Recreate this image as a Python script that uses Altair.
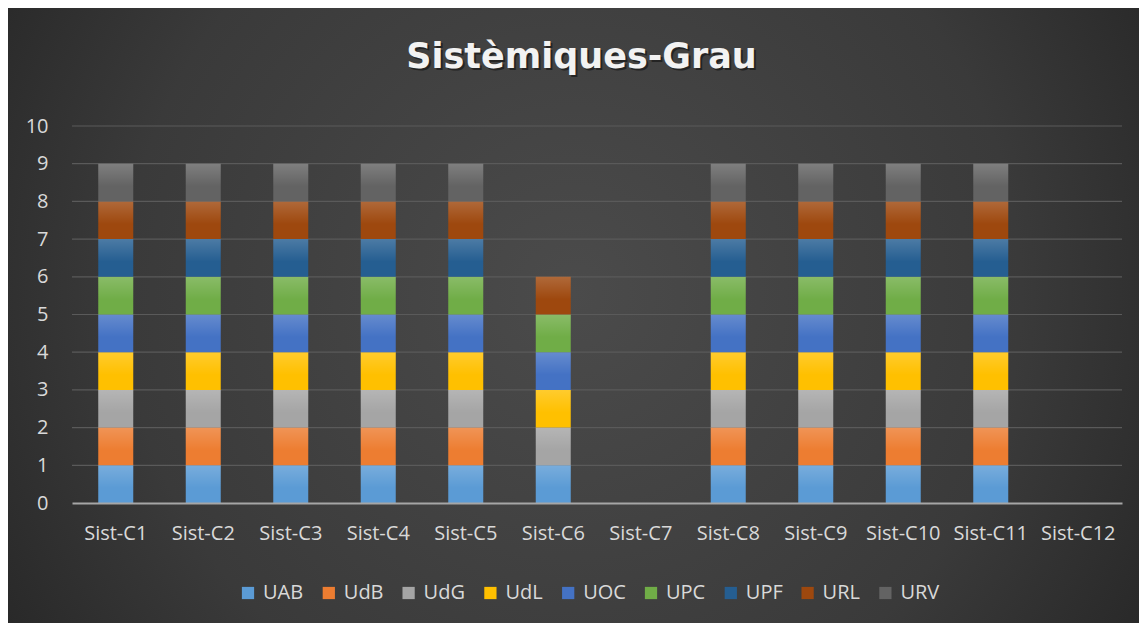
import altair as alt
import pandas as pd

categories = ["Sist-C1", "Sist-C2", "Sist-C3", "Sist-C4", "Sist-C5", "Sist-C6",
              "Sist-C7", "Sist-C8", "Sist-C9", "Sist-C10", "Sist-C11", "Sist-C12"]
universities = ["UAB", "UdB", "UdG", "UdL", "UOC", "UPC", "UPF", "URL", "URV"]
colors = ["#5B9BD5", "#ED7D31", "#A5A5A5", "#FFC000", "#4472C4",
          "#70AD47", "#255E91", "#9E480E", "#636363"]
y_ticks = [0, 1, 2, 3, 4, 5, 6, 7, 8, 9, 10]
title_text = ["Sistèmiques-Grau"]

UAB = [1, 1, 1, 1, 1, 1, 0, 1, 1, 1, 1, 0]
UdB = [1, 1, 1, 1, 1, 0, 0, 1, 1, 1, 1, 0]
UdG = [1, 1, 1, 1, 1, 1, 0, 1, 1, 1, 1, 0]
UdL = [1, 1, 1, 1, 1, 1, 0, 1, 1, 1, 1, 0]
UOC = [1, 1, 1, 1, 1, 1, 0, 1, 1, 1, 1, 0]
UPC = [1, 1, 1, 1, 1, 1, 0, 1, 1, 1, 1, 0]
UPF = [1, 1, 1, 1, 1, 0, 0, 1, 1, 1, 1, 0]
URL = [1, 1, 1, 1, 1, 1, 0, 1, 1, 1, 1, 0]
URV = [1, 1, 1, 1, 1, 0, 0, 1, 1, 1, 1, 0]

series = {"UAB": UAB, "UdB": UdB, "UdG": UdG, "UdL": UdL, "UOC": UOC,
          "UPC": UPC, "UPF": UPF, "URL": URL, "URV": URV}

rows = []
for i, u in enumerate(universities):
    for c, v in zip(categories, series[u]):
        rows.append({"cat": c, "uni": u, "order": i, "value": v})
df = pd.DataFrame(rows)
grid_df = pd.DataFrame({"t": y_ticks[1:]})
title_df = pd.DataFrame({"title": title_text})

W, H = 1050, 377
PL, PT, PR, PB = 64, 118, 17, 120
FONT = "Open Sans"
LABEL = "#d9d9d9"

bg = alt.Chart(pd.DataFrame({"a": [0]})).mark_rect(
    color={
        "gradient": "radial",
        "x1": 0.5, "y1": 0.48, "x2": 0.5, "y2": 0.48,
        "r1": 0, "r2": 0.72,
        "stops": [
            {"offset": 0, "color": "#4b4b4b"},
            {"offset": 0.55, "color": "#3a3a3a"},
            {"offset": 1, "color": "#1c1c1c"},
        ],
    }
).encode(
    x=alt.value(-PL), x2=alt.value(W + PR),
    y=alt.value(-PT), y2=alt.value(H + PB),
)

yscale = alt.Scale(domain=[0, 10], nice=False)
yaxis = alt.Axis(values=y_ticks, labelFont=FONT, labelFontSize=20,
                 labelColor=LABEL, labelPadding=24, ticks=False,
                 domain=False, grid=False, zindex=1, title=None)

grid = alt.Chart(grid_df).mark_rule(color="#5a5a5a", strokeWidth=1.2).encode(
    y=alt.Y("t:Q", scale=yscale, axis=yaxis, title=None),
    x=alt.value(0), x2=alt.value(W),
)

xenc = alt.X("cat:N", sort=categories, title=None,
             scale=alt.Scale(paddingInner=0.6, paddingOuter=0.3),
             axis=alt.Axis(labelAngle=0, labelFont=FONT, labelFontSize=20,
                           labelColor=LABEL, labelPadding=20, ticks=False,
                           domainColor="#a6a6a6", domainWidth=2, grid=False,
                           zindex=1))
yenc = alt.Y("sum(value):Q", title=None, scale=yscale, axis=yaxis)

bars = alt.Chart(df).mark_bar().encode(
    x=xenc,
    y=yenc,
    color=alt.Color("uni:N", sort=universities,
                    scale=alt.Scale(domain=universities, range=colors),
                    legend=alt.Legend(title=None, orient="none", direction="horizontal",
                                      legendX=166, legendY=457,
                                      symbolType="square", symbolSize=150,
                                      symbolStrokeWidth=0,
                                      labelFont=FONT, labelFontSize=20,
                                      labelColor=LABEL, labelOffset=5,
                                      columnPadding=14.8)),
    order=alt.Order("order:Q", sort="ascending"),
)

sheen = alt.Chart(df).mark_bar(
    color={
        "gradient": "linear", "x1": 0, "y1": 0, "x2": 0, "y2": 1,
        "stops": [
            {"offset": 0, "color": "rgba(255,255,255,0.18)"},
            {"offset": 0.6, "color": "rgba(255,255,255,0)"},
        ],
    }
).encode(
    x=xenc,
    y=yenc,
    detail="uni:N",
    order=alt.Order("order:Q", sort="ascending"),
)

title_shadow = alt.Chart(title_df).mark_text(
    font="DejaVu Sans", fontSize=35, fontWeight="bold", color="#000000",
    opacity=0.45, align="center", baseline="alphabetic",
).encode(text="title:N", x=alt.value(511.5), y=alt.value(-56))

title = alt.Chart(title_df).mark_text(
    font="DejaVu Sans", fontSize=35, fontWeight="bold", color="#f2f2f2",
    align="center", baseline="alphabetic",
).encode(text="title:N", x=alt.value(509.5), y=alt.value(-58))

chart = alt.layer(bg, grid, bars, sheen, title_shadow, title).properties(
    width=W, height=H,
    autosize=alt.AutoSizeParams(type="none"),
    padding={"left": PL, "top": PT, "right": PR, "bottom": PB},
    background="white",
).configure_view(stroke=None)

chart.save("out.html", embed_options={"renderer": "svg", "actions": False})
